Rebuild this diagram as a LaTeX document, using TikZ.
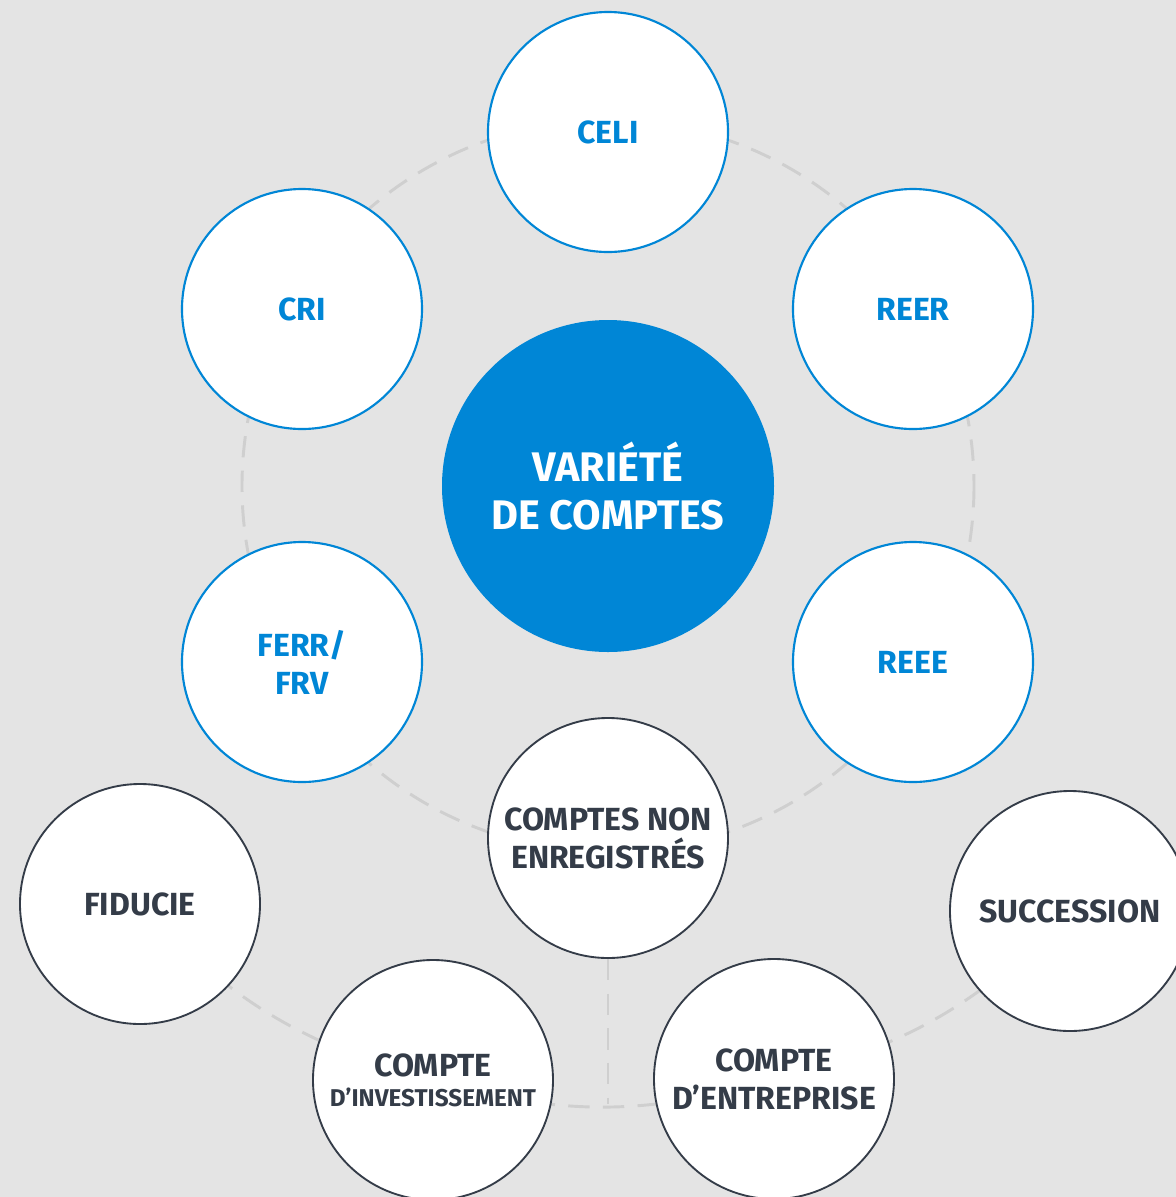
\documentclass[tikz,border=0pt]{standalone}
\usepackage{fontspec}
\setmainfont{Fira Sans}
\usepackage{xcolor}
\definecolor{hubblue}{HTML}{0086D6}
\definecolor{inkdark}{HTML}{343C48}
\definecolor{ringgray}{HTML}{CFCFCF}
\definecolor{paper}{HTML}{E4E4E4}
\pgfdeclarelayer{behind}
\pgfsetlayers{behind,main}
\tikzset{
  hubnode/.style={circle, fill=hubblue, minimum size=249pt, inner sep=0pt, text=white, align=center, font=\bfseries\fontsize{31}{36}\selectfont},
  bluenode/.style={circle, draw=hubblue, line width=1.6pt, fill=white, minimum size=180pt, inner sep=0pt, text=hubblue, align=center, font=\bfseries\fontsize{24}{28.5}\selectfont},
  greynode/.style={circle, draw=inkdark, line width=1.4pt, fill=white, minimum size=180pt, inner sep=0pt, text=inkdark, align=center, font=\bfseries\fontsize{24}{28.5}\selectfont},
  ring/.style={draw=ringgray, line width=2.2pt, dash pattern=on 16pt off 10pt}
}

\begin{document}
\begin{tikzpicture}[x=0.75pt,y=0.75pt,yscale=-1]
        \useasboundingbox (0,0) rectangle (1176,1197);
        \clip (0,0) rectangle (1176,1197);
        \begin{pgfonlayer}{behind}
        \fill[paper] (0,0) rectangle (1176,1197);
        \end{pgfonlayer}

        %Centre
        \node[hubnode] (hub) at (608,486) {VARIÉTÉ\\DE COMPTES};

        %Registered accounts
        \node[bluenode] (celi) at (608,132) {CELI};
        \node[bluenode] (reer) at (913,309) {REER};
        \node[bluenode] (reee) at (913,662) {REEE};
        \node[bluenode] (ferr) at (302,662) {FERR/\\FRV};
        \node[bluenode] (cri) at (302,309) {CRI};

        %Non registered accounts
        \node[greynode] (nonreg) at (608,838) {COMPTES NON\\ENREGISTRÉS};
        \node[greynode] (fiducie) at (140,904) {FIDUCIE};
        \node[greynode] (invest) at (433,1080) {COMPTE\\[-6pt]{\fontsize{18.2}{21}\selectfont D’INVESTISSEMENT}};
        \node[greynode] (entreprise) at (774,1079) {COMPTE\\D’ENTREPRISE};
        \node[greynode] (succession) at (1070,911) {SUCCESSION};

        %Dashed rings
        \begin{pgfonlayer}{behind}
        \draw[ring] (hub) circle (366);
        \draw[ring] (fiducie.center) to[bend left=16] (invest.center) to[bend left=16] (entreprise.center) to[bend left=16] (succession.center);
        \coordinate (join) at (608,1104);
        \draw[ring] (nonreg) -- (join);
        \end{pgfonlayer}
\end{tikzpicture}
\end{document}
